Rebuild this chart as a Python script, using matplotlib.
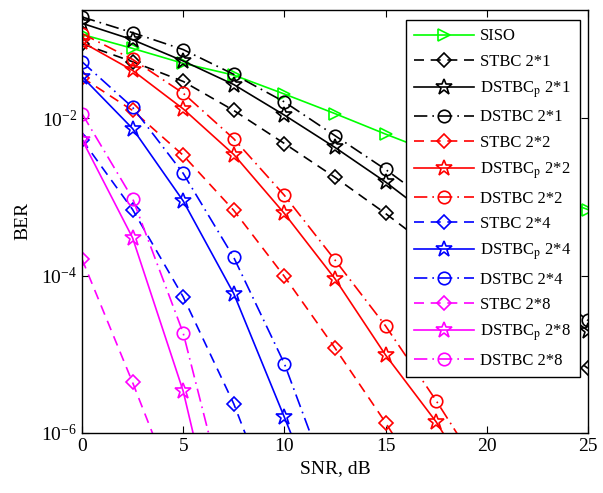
import matplotlib
matplotlib.use('Agg')
import matplotlib.pyplot as plt

# SNR axis (dB)
snr = [0, 2.5, 5, 7.5, 10, 12.5, 15, 17.5, 20, 22.5, 25]

# BER
siso = [1.17e-1, 7.76e-2, 5.01e-2, 3.55e-2, 2.04e-2, 1.15e-2, 6.31e-3, 3.55e-3, 2.09e-3, 1.20e-3, 6.92e-4]
stbc21 = [8.91e-2, 5.25e-2, 2.95e-2, 1.26e-2, 4.79e-3, 1.78e-3, 6.17e-4, 2.0e-4, 6.31e-5, 2.04e-5, 6.61e-6]
dstbcp21 = [1.62e-1, 1.0e-1, 5.37e-2, 2.69e-2, 1.10e-2, 4.27e-3, 1.55e-3, 5.01e-4, 1.70e-4, 5.75e-5, 2.0e-5]
dstbc21 = [1.95e-1, 1.23e-1, 7.5e-2, 3.63e-2, 1.62e-2, 6.03e-3, 2.24e-3, 7.59e-4, 2.51e-4, 8.32e-5, 2.69e-5]
stbc22 = [3.31e-2, 1.26e-2, 3.39e-3, 6.76e-4, 9.77e-5, 1.20e-5, 1.35e-6, 1.26e-7]
dstbcp22 = [9.33e-2, 4.07e-2, 1.32e-2, 3.47e-3, 6.17e-4, 9.12e-5, 9.77e-6, 1.38e-6, 1.26e-7]
dstbc22 = [1.20e-1, 5.62e-2, 2.09e-2, 5.50e-3, 1.05e-3, 1.58e-4, 2.29e-5, 2.57e-6, 2.5e-7]
stbc24 = [5.37e-3, 6.92e-4, 5.37e-5, 2.34e-6, 5.0e-8]
dstbcp24 = [3.39e-2, 7.41e-3, 8.91e-4, 5.89e-5, 1.58e-6, 4.0e-8]
dstbc24 = [5.25e-2, 1.38e-2, 2.0e-3, 1.70e-4, 7.59e-6, 1.41e-7]
stbc28 = [1.62e-4, 4.37e-6, 1.0e-7]
dstbcp28 = [5.37e-3, 3.02e-4, 3.39e-6, 6.3e-9]
dstbc28 = [1.15e-2, 9.55e-4, 1.86e-5, 5.4e-8]

labels = ['SISO', 'STBC 2*1', r'DSTBC$_\mathrm{p}$ 2*1', 'DSTBC 2*1',
          'STBC 2*2', r'DSTBC$_\mathrm{p}$ 2*2', 'DSTBC 2*2',
          'STBC 2*4', r'DSTBC$_\mathrm{p}$ 2*4', 'DSTBC 2*4',
          'STBC 2*8', r'DSTBC$_\mathrm{p}$ 2*8', 'DSTBC 2*8']

plt.rcParams['font.family'] = 'Liberation Serif'
plt.rcParams['mathtext.fontset'] = 'stix'

dash = (0, (6, 4))
dashdot = (0, (8, 3, 1, 3))

fig = plt.figure(figsize=(6.03, 4.93), dpi=100)
ax = fig.add_axes([0.136, 0.122, 0.839, 0.858])

ax.plot(snr, siso, color='#00ff00', ls='-', marker='>', ms=9, mfc='none', mew=1.2, lw=1.2, label=labels[0])

series = [
    (stbc21, dstbcp21, dstbc21, 'black'),
    (stbc22, dstbcp22, dstbc22, 'red'),
    (stbc24, dstbcp24, dstbc24, 'blue'),
    (stbc28, dstbcp28, dstbc28, 'magenta'),
]
k = 1
for stbc, dstbcp, dstbc, c in series:
    ax.plot(snr[:len(stbc)], stbc, color=c, ls=dash, marker='D', ms=7, mfc='none', mew=1.2, lw=1.2, label=labels[k])
    ax.plot(snr[:len(dstbcp)], dstbcp, color=c, ls='-', marker='*', ms=12, mfc='none', mew=1.2, lw=1.2, label=labels[k + 1])
    ax.plot(snr[:len(dstbc)], dstbc, color=c, ls=dashdot, marker='o', ms=9, mfc='none', mew=1.2, lw=1.2, label=labels[k + 2])
    k += 3

ax.set_yscale('log')
ax.set_xlim(0, 25)
ax.set_ylim(1e-6, 0.24)
ax.set_xticks([0, 5, 10, 15, 20, 25])
ax.set_yticks([1e-6, 1e-4, 1e-2])
ax.yaxis.set_minor_locator(matplotlib.ticker.NullLocator())
ax.tick_params(which='both', direction='in', top=True, right=True, labelsize=14, length=5)
for s in ax.spines.values():
    s.set_linewidth(1.0)
ax.set_xlabel('SNR, dB', fontsize=14, labelpad=4)
ax.set_ylabel('BER', fontsize=14, labelpad=7)

leg = ax.legend(loc='upper right', bbox_to_anchor=(0.984, 0.976), borderaxespad=0,
                fontsize=12, handlelength=3.6, labelspacing=0.57, fancybox=False,
                framealpha=1, edgecolor='black', borderpad=0.5, handletextpad=0.35)
leg.get_frame().set_linewidth(1.0)

fig.savefig('out.png', dpi=100)
